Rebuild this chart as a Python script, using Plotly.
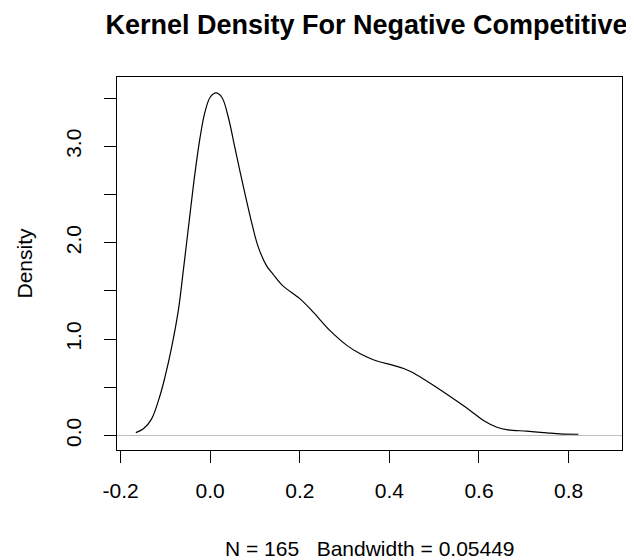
import plotly.graph_objects as go

# Kernel density estimate
dens_x = [-0.166, -0.149, -0.131, -0.112, -0.101, -0.086, -0.071, -0.060, -0.045, -0.034,
          -0.023, -0.012, 0.000, 0.013, 0.026, 0.040, 0.055, 0.067, 0.082, 0.093,
          0.107, 0.126, 0.141, 0.163, 0.200, 0.230, 0.267, 0.305, 0.334, 0.364,
          0.409, 0.432, 0.453, 0.498, 0.543, 0.580, 0.610, 0.640, 0.665, 0.706,
          0.751, 0.781, 0.822]
dens_y = [0.03, 0.07, 0.17, 0.415, 0.605, 0.917, 1.30, 1.71, 2.30, 2.72,
          3.08, 3.35, 3.51, 3.555, 3.51, 3.31, 2.99, 2.73, 2.42, 2.20,
          1.96, 1.76, 1.67, 1.55, 1.42, 1.28, 1.09, 0.935, 0.85, 0.786,
          0.727, 0.695, 0.650, 0.52, 0.38, 0.26, 0.156, 0.086, 0.059, 0.045,
          0.028, 0.017, 0.013]

x_ticks = [-0.2, 0.0, 0.2, 0.4, 0.6, 0.8]
x_tick_labels = ["-0.2", "0.0", "0.2", "0.4", "0.6", "0.8"]
y_ticks = [0.0, 0.5, 1.0, 1.5, 2.0, 2.5, 3.0, 3.5]
y_tick_labels = ["0.0", "", "1.0", "", "2.0", "", "3.0", ""]

title_text = "Kernel Density For Negative Competitive"
x_label = "N = 165\u00a0\u00a0\u00a0Bandwidth = 0.05449"
y_label = "Density"

FONT = "Liberation Sans, Arial, sans-serif"

# the page body has an 8px margin, so the figure is 8px smaller on each axis
W, H = 626, 552

fig = go.Figure()
fig.add_trace(go.Scatter(
    x=dens_x, y=dens_y, mode="lines",
    line=dict(color="black", width=1.2, shape="spline", smoothing=1.0),
    hoverinfo="skip", showlegend=False,
))

# zero line (gray) as in R's plot.density
fig.add_shape(type="line", xref="paper", x0=0, x1=1, yref="y", y0=0, y1=0,
              line=dict(color="#BEBEBE", width=1.2), layer="below")

fig.update_layout(
    width=W, height=H,
    margin=dict(l=109, r=12, t=69, b=110, autoexpand=False),
    paper_bgcolor="white", plot_bgcolor="white",
    font=dict(family=FONT, color="black", size=21),
    title=dict(text="<b>" + title_text + "</b>", x=358.5 / W, xanchor="center",
               y=1 - 17 / H, yanchor="middle", yref="container", xref="container",
               font=dict(size=27, family=FONT, color="black")),
    showlegend=False,
)

fig.update_xaxes(
    range=[-0.208, 0.9192], tickvals=x_ticks, ticktext=x_tick_labels,
    showline=True, linecolor="black", linewidth=1.3, mirror=True,
    ticks="outside", ticklen=12, tickwidth=1.3, tickcolor="black",
    showgrid=False, zeroline=False, ticklabelstandoff=10, automargin=False,
    tickfont=dict(size=21, family=FONT, color="black"),
)
fig.update_yaxes(
    range=[-0.1507, 3.720], tickvals=y_ticks, ticktext=y_tick_labels,
    showline=True, linecolor="black", linewidth=1.3, mirror=True,
    ticks="outside", ticklen=12, tickwidth=1.3, tickcolor="black",
    showgrid=False, zeroline=False, tickangle=-90, ticklabelstandoff=14,
    automargin=False,
    tickfont=dict(size=21, family=FONT, color="black"),
)

fig.add_annotation(text=x_label, xref="paper", yref="paper",
                   x=0.5, y=-(548 - 450) / 373, xanchor="center", yanchor="middle",
                   showarrow=False, font=dict(size=21, family=FONT, color="black"))
fig.add_annotation(text=y_label, xref="paper", yref="paper",
                   x=-(117 - 24) / 505, y=0.5, xanchor="center", yanchor="middle",
                   textangle=-90, showarrow=False,
                   font=dict(size=21, family=FONT, color="black"))

fig.write_html("out.html")
